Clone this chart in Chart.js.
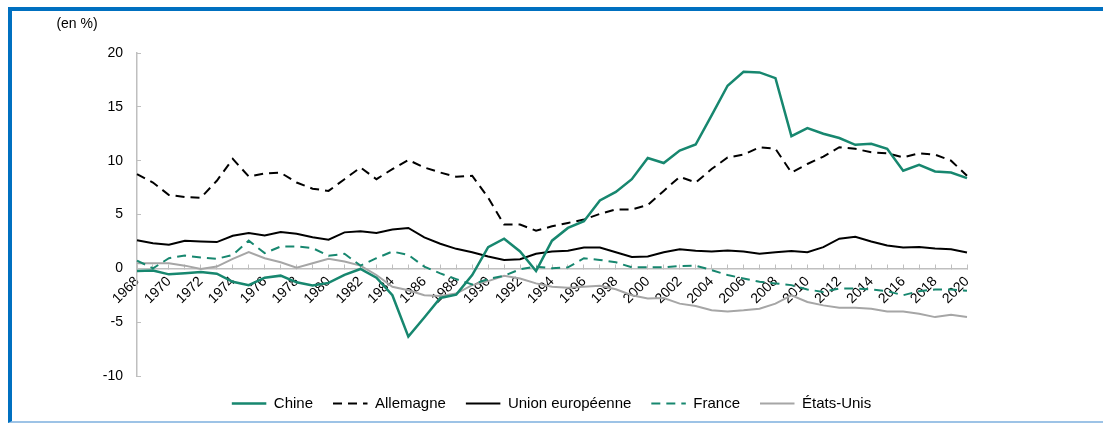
<!DOCTYPE html>
<html><head><meta charset="utf-8">
<script src="https://cdn.jsdelivr.net/npm/chart.js@4/dist/chart.umd.min.js"></script>
<style>
html,body{margin:0;padding:0;background:#fff;}
#wrap{position:relative;width:1103px;height:423px;overflow:hidden;background:#fff;}
#frame{position:absolute;left:8px;top:7px;right:0;bottom:0;border-top:4px solid #0070C0;border-left:4px solid #0070C0;border-bottom:2px solid #9DC3E6;box-sizing:border-box;}
canvas{position:absolute;left:0;top:0;}
</style></head><body>
<div id="wrap"><div id="frame"></div><canvas id="c" width="1103" height="423"></canvas></div>
<script>
const years = [];
for (let y = 1968; y <= 2020; y++) years.push(String(y));

const chine = [-0.25,-0.2,-0.56,-0.45,-0.35,-0.5,-1.25,-1.56,-0.87,-0.68,-1.3,-1.6,-1.35,-0.6,-0.06,-0.87,-2.5,
  -6.34,-4.56,-2.75,-2.44,-0.62,1.97,2.75,1.57,-0.25,2.57,3.75,
  4.38,6.3,7.1,8.28,10.25,9.78,10.94,11.5,14.2,16.96,
  18.25,18.2,17.66,12.28,13.03,12.5,12.1,11.47,11.56,11.1,9.06,9.62,9.0,8.9,8.38];
const allemagne = [8.75,7.97,6.81,6.63,6.56,8.13,10.16,8.53,8.81,8.88,7.97,7.4,7.19,8.28,9.37,
  8.28,9.22,10.06,9.37,8.9,8.5,8.6,6.56,4.06,4.06,3.5,3.9,4.22,4.53,5.06,5.47,5.47,5.88,7.19,8.5,7.97,9.22,10.3,
  10.56,11.25,11.1,8.9,9.69,10.38,11.25,11.1,10.78,10.69,10.3,10.69,10.56,10.0,8.6];
const unionEuropeenne = [2.6,2.34,2.19,2.57,2.5,2.44,3.03,3.28,3.06,3.37,3.22,2.88,2.66,3.34,3.44,
  3.28,3.6,3.75,2.88,2.28,1.81,1.5,1.1,0.78,0.84,1.35,1.56,1.63,1.94,1.94,1.5,1.06,1.1,1.5,1.78,1.63,1.56,1.66,
  1.56,1.35,1.5,1.6,1.5,1.97,2.75,2.94,2.5,2.13,1.94,1.97,1.84,1.78,1.47];
const france = [0.72,0.0,0.94,1.19,1.0,0.88,1.25,2.57,1.41,2.03,2.03,1.88,1.16,1.35,0.25,0.94,1.56,
  1.25,0.16,-0.47,-1.0,-1.5,-1.0,-0.69,-0.09,0.16,0.0,0.09,0.94,0.78,0.56,0.09,0.09,
  0.1,0.22,0.25,-0.16,-0.62,-0.94,-1.25,-1.4,-1.56,-1.97,-2.19,-1.87,-1.87,-1.97,-2.12,-2.5,-2.12,-1.97,-1.97,-2.09];
const etatsUnis = [0.47,0.47,0.47,0.25,-0.06,0.16,0.88,1.5,0.94,0.56,0.06,0.47,0.88,0.63,0.25,-0.62,-1.72,
  -2.03,-2.5,-2.56,-2.34,-1.56,-1.19,-0.69,-0.94,-1.4,-1.72,-1.81,-1.72,-1.62,-1.94,-2.5,-2.81,-2.75,-3.28,-3.5,-3.9,-4.0,
  -3.9,-3.75,-3.28,-2.5,-3.12,-3.44,-3.65,-3.65,-3.75,-4.0,-4.0,-4.22,-4.53,-4.31,-4.53];
const seriesNames = ['Chine','Allemagne','Union européenne','France','États-Unis'];
const yTicks = [-10,-5,0,5,10,15,20];
const unitText = '(en %)';

const FONT = '"Liberation Sans",Arial,sans-serif';
const GREEN = '#17876F';
const AXIS = '#BFBFBF';
const DASH = [9,6];

const unitPlugin = {
  id: 'unitLabel',
  afterDraw(chart) {
    const ctx = chart.ctx;
    ctx.save();
    ctx.font = '14px ' + FONT;
    ctx.fillStyle = '#000';
    ctx.textAlign = 'center';
    ctx.textBaseline = 'middle';
    ctx.fillText(unitText, chart.chartArea.left - 60, 24);
    ctx.restore();
  }
};

new Chart(document.getElementById('c'), {
  type: 'line',
  data: {
    labels: years,
    datasets: [
      {label: seriesNames[0], data: chine, borderColor: GREEN, backgroundColor: GREEN, borderWidth: 2.5},
      {label: seriesNames[1], data: allemagne, borderColor: '#000', backgroundColor: '#000', borderWidth: 2, borderDash: DASH},
      {label: seriesNames[2], data: unionEuropeenne, borderColor: '#000', backgroundColor: '#000', borderWidth: 2},
      {label: seriesNames[3], data: france, borderColor: GREEN, backgroundColor: GREEN, borderWidth: 2, borderDash: DASH},
      {label: seriesNames[4], data: etatsUnis, borderColor: '#A6A6A6', backgroundColor: '#A6A6A6', borderWidth: 2}
    ]
  },
  options: {
    responsive: false,
    animation: false,
    elements: {point: {radius: 0}, line: {tension: 0}},
    layout: {padding: {left: 0, top: 53, right: 0, bottom: 2}},
    plugins: {
      tooltip: {enabled: false},
      legend: {
        position: 'bottom',
        labels: {
          usePointStyle: false, boxWidth: 34.5, boxHeight: 0,
          color: '#000', font: {family: FONT, size: 15}, padding: 20
        }
      }
    },
    scales: {
      x: {
        position: {y: 0},
        offset: false,
        afterFit(s) { s.height = 0; },
        grid: {drawOnChartArea: false, drawTicks: true, tickLength: -5, color: AXIS, lineWidth: 1},
        border: {display: true, color: AXIS, width: 1.5},
        ticks: {
          autoSkip: false, minRotation: 45, maxRotation: 45, padding: 10,
          color: '#000', font: {family: FONT, size: 14},
          callback(v, i) { return i % 2 === 0 ? years[i] : ''; }
        }
      },
      y: {
        min: -10, max: 20,
        afterFit(s) { s.width = 137; },
        afterBuildTicks(s) { s.ticks = yTicks.map(v => ({value: v})); },
        grid: {drawOnChartArea: false, drawTicks: true, tickLength: -4, color: AXIS},
        border: {display: true, color: AXIS, width: 1.5},
        ticks: {padding: 18, color: '#000', font: {family: FONT, size: 14}}
      },
      rightSpace: {
        axis: 'y', position: 'right', min: -10, max: 20,
        afterFit(s) { s.width = 136; },
        grid: {display: false},
        border: {display: false},
        ticks: {display: false}
      }
    }
  },
  plugins: [unitPlugin]
});
</script>
</body></html>
